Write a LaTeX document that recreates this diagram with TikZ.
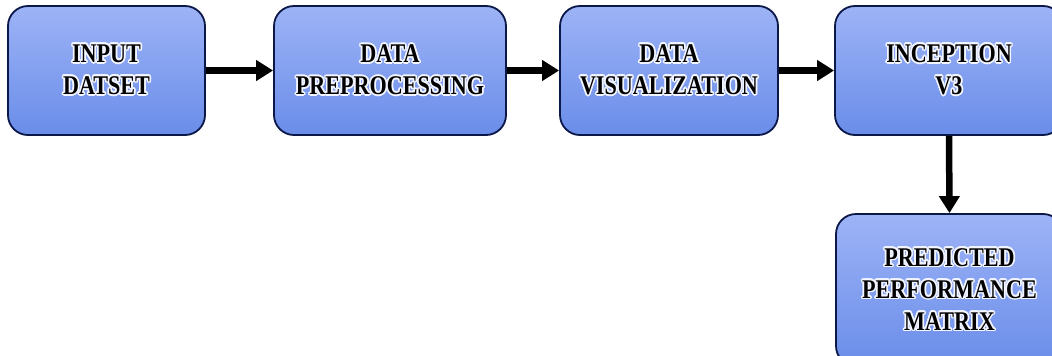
\documentclass[tikz,border=0pt]{standalone}
\usepackage{fontspec}
\setmainfont[FakeStretch=0.82]{Liberation Serif}
\usepackage{contour}
\usetikzlibrary{arrows.meta}
\definecolor{boxtop}{HTML}{9DB3F6}
\definecolor{boxbot}{HTML}{6A8DE9}
\definecolor{boxline}{HTML}{0B1848}
\definecolor{glow}{HTML}{F2F5FF}
\contourlength{1.6pt}
% one line of label text with a pale halo round it
\newcommand{\gl}[1]{\contour{glow}{#1}}
\tikzset{
  stage/.style={draw=boxline, line width=1.8pt, rounded corners=20pt,
    top color=boxtop, bottom color=boxbot, inner sep=0pt,
    align=center, font=\fontsize{27}{32}\selectfont\bfseries},
  flow/.style={line width=6.5pt, -{Triangle[length=17pt,width=20pt]}}
}
\begin{document}
\begin{tikzpicture}[x=1pt,y=-1pt]
  \useasboundingbox (0,0) rectangle (1052,356);
  \clip (0,0) rectangle (1052,356);
  \node[stage, minimum width=197pt, minimum height=129pt] (inp) at (106.5,70.5) {\gl{INPUT}\\\gl{DATSET}};
  \node[stage, minimum width=232pt, minimum height=129pt] (pre) at (390,70.5) {\gl{DATA}\\\gl{PREPROCESSING}};
  \node[stage, minimum width=218pt, minimum height=129pt] (vis) at (669,70.5) {\gl{DATA}\\\gl{VISUALIZATION}};
  \node[stage, minimum width=228pt, minimum height=129pt] (inc) at (949,70.5) {\gl{INCEPTION}\\\gl{V3}};
  \node[stage, minimum width=227pt, minimum height=152pt] (out) at (949.5,290) {\gl{PREDICTED}\\\gl{PERFORMANCE}\\\gl{MATRIX}};
  \draw[flow] (inp.east) -- (pre.west);
  \draw[flow] (pre.east) -- (vis.west);
  \draw[flow] (vis.east) -- (inc.west);
  \draw[flow] (inc.south) -- (out.north);
\end{tikzpicture}
\end{document}
